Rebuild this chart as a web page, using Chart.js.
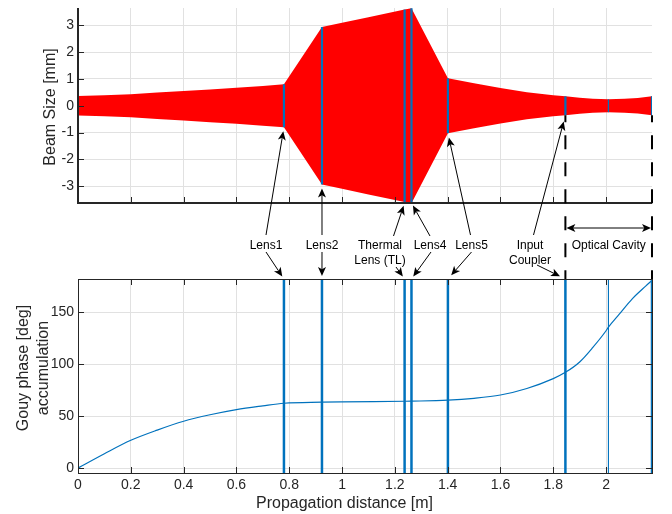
<!DOCTYPE html>
<html><head><meta charset="utf-8">
<script src="https://cdn.jsdelivr.net/npm/chart.js@4.4.1/dist/chart.umd.min.js"></script>
<style>
html,body{margin:0;padding:0;background:#fff;}
#wrap{position:relative;width:672px;height:514px;background:#fff;}
canvas{position:absolute;left:0;top:0;}
</style></head><body>
<div id="wrap"><canvas id="cTop" width="672" height="514"></canvas><canvas id="cBot" width="672" height="514"></canvas></div>
<script>
// ---------- data ----------
const beamX = [0, 0.1, 0.2, 0.3, 0.4, 0.5, 0.6, 0.7, 0.78, 0.924, 1.0, 1.1, 1.237, 1.263, 1.401, 1.5, 1.6, 1.7, 1.8, 1.846, 1.9, 1.95, 2.009, 2.07, 2.12, 2.174];
const beamW = [0.36, 0.39, 0.43, 0.49, 0.55, 0.61, 0.67, 0.74, 0.80, 2.93, 3.09, 3.30, 3.58, 3.63, 1.02, 0.84, 0.66, 0.50, 0.39, 0.35, 0.30, 0.26, 0.24, 0.26, 0.29, 0.35];
const gouyX = [0, 0.1, 0.2, 0.3, 0.4, 0.5, 0.6, 0.7, 0.78, 0.924, 1.0, 1.237, 1.263, 1.401, 1.5, 1.6, 1.7, 1.8, 1.846, 1.9, 1.95, 2.0, 2.009, 2.05, 2.1, 2.15, 2.174];
const gouyPhase = [0, 13.8, 26.7, 36.5, 45, 51.2, 56.2, 59.8, 62.3, 63.3, 63.6, 64.2, 64.3, 65.2, 67, 70.2, 76.5, 86, 92, 102, 116, 132, 135.5, 148, 163, 175, 180.5];
const elementX = [0.78, 0.924, 1.237, 1.263, 1.401, 1.846, 2.009, 2.174];
const elementThin = [false, false, false, false, false, false, true, false];
const xTicks = [0, 0.2, 0.4, 0.6, 0.8, 1.0, 1.2, 1.4, 1.6, 1.8, 2.0];
const beamTicks = [-3, -2, -1, 0, 1, 2, 3];
const gouyTicks = [0, 50, 100, 150];
const xRange = [0, 2.174];
const beamRange = [-3.62, 3.64];
const gouyRange = [-4.8, 181.8];
const noteLabels = [['Lens1'], ['Lens2'], ['Thermal', 'Lens (TL)'], ['Lens4'], ['Lens5'], ['Input', 'Coupler']];
const cavityLabel = 'Optical Cavity';

// ---------- styles ----------
const FONT = "'Liberation Sans', Arial, Helvetica, sans-serif";
const INK = '#262626';
const GRID = '#e1e1e1';
const BLUE = '#0072BD';
const RED = '#ff0000';

function wAt(x){ return beamW[beamX.indexOf(x)]; }

function fixY(s){ s.width = 78; s.paddingTop = 0; s.paddingBottom = 0; }
function fixXTop(s){ s.height = 0; s.paddingLeft = 0; s.paddingRight = 0; }
function fixXBot(s){ s.height = 41; s.paddingLeft = 0; s.paddingRight = 0; }
const fmt = v => String(Math.round(v * 10) / 10);

// ---------- top chart ----------
const topDatasets = [
  { data: beamX.map((x, i) => ({x, y: beamW[i]})), fill: '+1', backgroundColor: RED, borderWidth: 0, pointRadius: 0, order: 2 },
  { data: beamX.map((x, i) => ({x, y: -beamW[i]})), fill: false, borderWidth: 0, pointRadius: 0, order: 2 }
];
elementX.forEach((ex, i) => {
  const w = wAt(ex);
  topDatasets.push({ data: [{x: ex, y: -w}, {x: ex, y: w}], borderColor: BLUE, borderWidth: elementThin[i] ? 1.3 : 2.2, pointRadius: 0, fill: false, order: 0 });
});

const topAxes = {
  id: 'topAxes',
  afterDatasetsDraw(chart){
    const {ctx, chartArea: a, scales: {x, y}} = chart;
    ctx.save();
    ctx.strokeStyle = INK; ctx.lineWidth = 1;
    ctx.beginPath();
    beamTicks.forEach(v => { const yy = Math.round(y.getPixelForValue(v)) + 0.5; ctx.moveTo(a.left, yy); ctx.lineTo(a.left + 6, yy); });
    xTicks.forEach(v => { const xx = Math.round(x.getPixelForValue(v)) + 0.5; ctx.moveTo(xx, a.bottom); ctx.lineTo(xx, a.bottom - 6); });
    ctx.stroke();
    ctx.lineWidth = 2;
    ctx.beginPath(); ctx.moveTo(a.left, a.top); ctx.lineTo(a.left, a.bottom); ctx.lineTo(a.right, a.bottom); ctx.stroke();
    ctx.restore();
  },
  afterDraw(chart){
    const {ctx, chartArea: a} = chart;
    ctx.save();
    ctx.fillStyle = INK; ctx.font = '16px ' + FONT;
    ctx.translate(54.5, (a.top + a.bottom) / 2 + 1.5);
    ctx.rotate(-Math.PI / 2);
    ctx.textAlign = 'center'; ctx.textBaseline = 'alphabetic';
    ctx.fillText('Beam Size [mm]', 0, 0);
    ctx.restore();
  }
};

const topChart = new Chart(document.getElementById('cTop'), {
  type: 'line',
  data: { datasets: topDatasets },
  options: {
    responsive: false, animation: false, devicePixelRatio: 1, events: [],
    layout: { padding: { left: 0, right: 20, top: 8, bottom: 311 } },
    plugins: { legend: { display: false }, tooltip: { enabled: false } },
    elements: { line: { tension: 0 } },
    scales: {
      x: { type: 'linear', min: xRange[0], max: xRange[1],
           afterBuildTicks: s => { s.ticks = xTicks.map(v => ({value: v})); }, afterFit: fixXTop,
           ticks: { display: false }, grid: { color: GRID, drawTicks: false }, border: { display: false } },
      y: { type: 'linear', min: beamRange[0], max: beamRange[1],
           afterBuildTicks: s => { s.ticks = beamTicks.map(v => ({value: v})); }, afterFit: fixY,
           ticks: { padding: 4, color: INK, font: { family: FONT, size: 14 }, callback: v => String(v) },
           grid: { color: GRID, drawTicks: false }, border: { display: false } }
    }
  },
  plugins: [topAxes]
});

// ---------- bottom chart ----------
const botDatasets = [
  { data: gouyX.map((x, i) => ({x, y: gouyPhase[i]})), borderColor: BLUE, borderWidth: 1.2, pointRadius: 0, fill: false, cubicInterpolationMode: 'monotone', order: 2 }
];
elementX.forEach((ex, i) => {
  botDatasets.push({ data: [{x: ex, y: gouyRange[0]}, {x: ex, y: gouyRange[1]}], borderColor: BLUE, borderWidth: elementThin[i] ? 1.1 : 2.5, pointRadius: 0, fill: false, order: 0 });
});

function arrow(ctx, x0, y0, x1, y1, gap, head = 9, half = 4, tail = true){
  const dx = x1 - x0, dy = y1 - y0, L = Math.hypot(dx, dy), ux = dx / L, uy = dy / L;
  const tx = x1 - ux * gap, ty = y1 - uy * gap;
  const bx = tx - ux * head, by = ty - uy * head;
  const nx = tx - ux * head * 0.75, ny = ty - uy * head * 0.75;
  if (tail){ ctx.beginPath(); ctx.moveTo(x0, y0); ctx.lineTo(nx, ny); ctx.stroke(); }
  ctx.beginPath();
  ctx.moveTo(tx, ty);
  ctx.lineTo(bx - uy * half, by + ux * half);
  ctx.lineTo(nx, ny);
  ctx.lineTo(bx + uy * half, by - ux * half);
  ctx.closePath(); ctx.fill();
}

// annotation layout (pixel anchors of the label texts and arrow tails)
const notes = [
  { cx: 266, up: [266, 235], down: [266, 252], gu: 4, gd: 3, toAxis: false },
  { cx: 322, up: [322, 235], down: [322, 252], gu: 4, gd: 3, toAxis: false },
  { cx: 380, up: [393.5, 236], down: [396, 267], gu: 3, gd: 3, toAxis: true },
  { cx: 430, up: [430, 236], down: [431, 252], gu: 3, gd: 3, toAxis: true },
  { cx: 471.5, up: [470.5, 235], down: [471.5, 252], gu: 4.5, gd: 5, toAxis: false },
  { cx: 530, up: [533.5, 235], down: [537, 265], gu: 6.5, gd: 6, toAxis: false }
];

const botAxes = {
  id: 'botAxes',
  afterDatasetsDraw(chart){
    const {ctx, chartArea: a, scales: {x, y}} = chart;
    ctx.save();
    ctx.strokeStyle = INK; ctx.lineWidth = 1;
    ctx.beginPath();
    gouyTicks.forEach(v => { const yy = Math.round(y.getPixelForValue(v)) + 0.5; ctx.moveTo(a.left, yy); ctx.lineTo(a.left + 6, yy); ctx.moveTo(a.right, yy); ctx.lineTo(a.right - 6, yy); });
    xTicks.forEach(v => { const xx = Math.round(x.getPixelForValue(v)) + 0.5; ctx.moveTo(xx, a.bottom); ctx.lineTo(xx, a.bottom - 6); ctx.moveTo(xx, a.top); ctx.lineTo(xx, a.top + 6); });
    ctx.stroke();
    ctx.strokeRect(Math.round(a.left) + 0.5, Math.round(a.top) + 0.5, Math.round(a.right - a.left), Math.round(a.bottom - a.top));
    ctx.restore();
  },
  afterDraw(chart){
    const {ctx, chartArea: a, scales: {x}} = chart;
    const tA = topChart.chartArea, tx = topChart.scales.x, ty = topChart.scales.y;
    ctx.save();
    // axis titles
    ctx.fillStyle = INK; ctx.font = '16px ' + FONT; ctx.textAlign = 'center'; ctx.textBaseline = 'alphabetic';
    ctx.fillText('Propagation distance [m]', 344.5, 508);
    ctx.save();
    ctx.translate(0, 368); ctx.rotate(-Math.PI / 2);
    ctx.fillText('Gouy phase [deg]', 0, 27.5);
    ctx.fillText('accumulation', 0, 47.5);
    ctx.restore();

    // dashed cavity boundaries
    ctx.strokeStyle = '#000'; ctx.lineWidth = 2; ctx.setLineDash([14, 13]); ctx.lineDashOffset = 7;
    [5, 7].forEach(k => {
      const xx = tx.getPixelForValue(elementX[k]);
      ctx.beginPath(); ctx.moveTo(xx, ty.getPixelForValue(-wAt(elementX[k]))); ctx.lineTo(xx, a.top); ctx.stroke();
    });
    ctx.setLineDash([]);

    // labels + arrows
    ctx.fillStyle = '#000'; ctx.strokeStyle = '#000'; ctx.lineWidth = 1;
    ctx.font = '12px ' + FONT; ctx.textAlign = 'center'; ctx.textBaseline = 'alphabetic';
    notes.forEach((n, i) => {
      const ex = elementX[i];
      noteLabels[i].forEach((t, j) => ctx.fillText(t, n.cx, 248.5 + j * 15.5));
      const upX = tx.getPixelForValue(ex);
      const upY = n.toAxis ? tA.bottom : ty.getPixelForValue(-wAt(ex));
      arrow(ctx, n.up[0], n.up[1], upX, upY, n.gu);
      arrow(ctx, n.down[0], n.down[1], x.getPixelForValue(ex), a.top, n.gd);
    });

    // optical cavity double arrow
    const c0 = tx.getPixelForValue(elementX[5]), c1 = tx.getPixelForValue(elementX[7]);
    const cy = 228;
    ctx.beginPath(); ctx.moveTo(c0 + 6, cy); ctx.lineTo(c1 - 6, cy); ctx.stroke();
    arrow(ctx, c1, cy, c0, cy, 1, 9, 4, false);
    arrow(ctx, c0, cy, c1, cy, 1, 9, 4, false);
    ctx.fillText(cavityLabel, (c0 + c1) / 2, 248.5);
    ctx.restore();
  }
};

const botChart = new Chart(document.getElementById('cBot'), {
  type: 'line',
  data: { datasets: botDatasets },
  options: {
    responsive: false, animation: false, devicePixelRatio: 1, events: [],
    layout: { padding: { left: 0, right: 20, top: 279, bottom: 0 } },
    plugins: { legend: { display: false }, tooltip: { enabled: false } },
    scales: {
      x: { type: 'linear', min: xRange[0], max: xRange[1],
           afterBuildTicks: s => { s.ticks = xTicks.map(v => ({value: v})); }, afterFit: fixXBot,
           ticks: { padding: 4, color: INK, font: { family: FONT, size: 14 }, callback: fmt, maxRotation: 0, minRotation: 0, autoSkip: false },
           grid: { color: GRID, drawTicks: false }, border: { display: false } },
      y: { type: 'linear', min: gouyRange[0], max: gouyRange[1],
           afterBuildTicks: s => { s.ticks = gouyTicks.map(v => ({value: v})); }, afterFit: fixY,
           ticks: { padding: 4, color: INK, font: { family: FONT, size: 14 }, callback: v => String(v) },
           grid: { color: GRID, drawTicks: false }, border: { display: false } }
    }
  },
  plugins: [botAxes]
});
</script>
</body></html>
